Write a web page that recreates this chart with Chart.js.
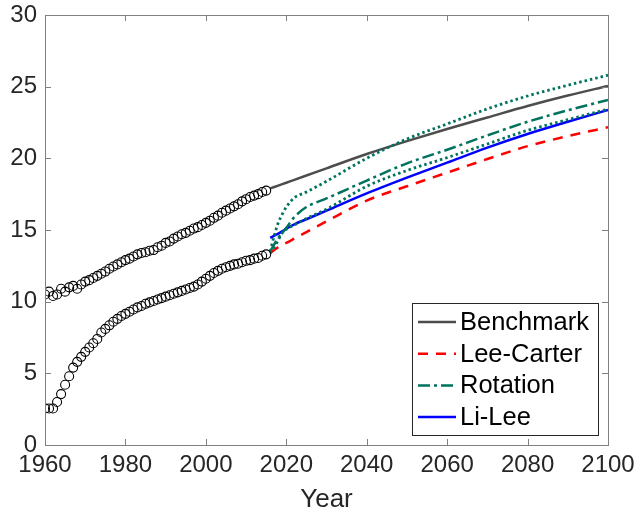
<!DOCTYPE html>
<html lang="en">
<head>
  <meta charset="UTF-8" />
  <title>Life expectancy forecasts</title>
  <style>
    body {
      margin: 0;
      background: #ffffff;
    }
    #wrap {
      position: relative;
      width: 638px;
      height: 515px;
    }
  </style>
</head>
<body>
  <div id="wrap"><canvas id="chart"></canvas></div>

  <script src="https://cdn.jsdelivr.net/npm/chart.js"></script>
  <script>
    // observed years (circles)
    const obsYears = [1960, 1961, 1962, 1963, 1964, 1965, 1966, 1967, 1968, 1969,
      1970, 1971, 1972, 1973, 1974, 1975, 1976, 1977, 1978, 1979,
      1980, 1981, 1982, 1983, 1984, 1985, 1986, 1987, 1988, 1989,
      1990, 1991, 1992, 1993, 1994, 1995, 1996, 1997, 1998, 1999,
      2000, 2001, 2002, 2003, 2004, 2005, 2006, 2007, 2008, 2009,
      2010, 2011, 2012, 2013, 2014, 2015];
    const obsUpper = [10.5, 10.7, 10.4, 10.5, 10.9, 10.7, 11.0, 11.1, 10.9, 11.2,
      11.4, 11.5, 11.65, 11.8, 11.95, 12.1, 12.3, 12.45, 12.6, 12.75,
      12.9, 13.0, 13.15, 13.3, 13.4, 13.45, 13.55, 13.6, 13.8, 13.9,
      14.1, 14.2, 14.4, 14.55, 14.7, 14.8, 14.95, 15.1, 15.2, 15.35,
      15.5, 15.65, 15.85, 16.0, 16.2, 16.35, 16.5, 16.65, 16.8, 17.0,
      17.15, 17.3, 17.4, 17.5, 17.65, 17.75];
    const obsLower = [2.55, 2.55, 2.55, 3.0, 3.55, 4.2, 4.8, 5.4, 5.8, 6.15,
      6.5, 6.8, 7.1, 7.4, 7.85, 8.1, 8.35, 8.6, 8.8, 9.0,
      9.15, 9.3, 9.45, 9.6, 9.7, 9.85, 9.95, 10.05, 10.15, 10.25,
      10.35, 10.45, 10.55, 10.65, 10.75, 10.85, 10.95, 11.05, 11.2, 11.4,
      11.6, 11.8, 12.0, 12.15, 12.3, 12.4, 12.5, 12.6, 12.65, 12.75,
      12.85, 12.9, 13.0, 13.05, 13.2, 13.3];

    // forecast years (lines)
    const fcYears = [2016, 2017, 2018, 2019, 2020, 2022, 2025, 2030, 2040, 2050, 2060, 2070, 2080, 2090, 2100];
    const benchmark = [17.9, 18.0, 18.1, 18.2, 18.3, 18.5, 18.8, 19.3, 20.3, 21.2, 22.05, 22.85, 23.65, 24.38, 25.05];
    const leeCarter = [13.4, 13.6, 13.8, 14.0, 14.1, 14.4, 14.85, 15.6, 17.05, 18.05, 19.0, 19.95, 20.85, 21.55, 22.17];
    const rotation = [13.5, 14.0, 14.45, 14.8, 15.15, 15.9, 16.6, 17.2, 18.45, 19.65, 20.6, 21.6, 22.55, 23.35, 24.07];
    const rotationUp = [13.5, 14.6, 15.5, 16.1, 16.6, 17.25, 17.65, 18.4, 20.0, 21.35, 22.4, 23.45, 24.35, 25.1, 25.8];
    const rotationLow = [13.4, 13.8, 14.3, 14.8, 15.05, 15.35, 15.8, 16.45, 18.05, 19.15, 20.05, 21.0, 21.95, 22.7, 23.43];
    const liLee = [14.45, 14.6, 14.75, 14.9, 15.1, 15.4, 15.75, 16.35, 17.55, 18.65, 19.7, 20.75, 21.7, 22.55, 23.38];

    const xTicks = [1960, 1980, 2000, 2020, 2040, 2060, 2080, 2100];
    const yTicks = [0, 5, 10, 15, 20, 25, 30];
    const legendNames = ['Benchmark', 'Lee-Carter', 'Rotation', 'Li-Lee'];

    const TEAL = '#00735e';
    const AXIS_COLOR = '#808080';
    const TEXT_COLOR = '#262626';
    const FONT = "'Liberation Sans', Arial, sans-serif";

    function pts(xs, ys) {
      return xs.map((x, i) => ({ x: x, y: ys[i] }));
    }

    function lineSet(label, ys, color, dash, width) {
      return {
        label: label,
        data: pts(fcYears, ys),
        showLine: true,
        borderColor: color,
        backgroundColor: color,
        borderWidth: width || 2.5,
        borderDash: dash,
        borderCapStyle: 'butt',
        pointRadius: 0,
        cubicInterpolationMode: 'monotone'
      };
    }

    function circleSet(label, ys) {
      return {
        label: label,
        data: pts(obsYears, ys),
        showLine: false,
        pointStyle: 'circle',
        pointRadius: 4.5,
        borderWidth: 1.1,
        borderColor: '#000000',
        backgroundColor: 'rgba(0,0,0,0)'
      };
    }

    const datasets = [
      circleSet('obs-upper', obsUpper),
      circleSet('obs-lower', obsLower),
      lineSet('Rotation upper', rotationUp, TEAL, [2.5, 3], 2.8),
      lineSet('Rotation lower', rotationLow, TEAL, [2.5, 3], 2.8),
      lineSet('Benchmark', benchmark, '#4d4d4d', [], 2.5),
      lineSet('Lee-Carter', leeCarter, '#ff0000', [10, 8], 2.5),
      lineSet('Rotation', rotation, TEAL, [12, 4, 3, 4], 2.5),
      lineSet('Li-Lee', liLee, '#0000ff', [], 2.5)
    ];

    // box around plot, ticks pointing inward, legend inside lower right
    const frameAndLegend = {
      id: 'frameAndLegend',
      afterDraw(chart) {
        const ctx = chart.ctx;
        const a = chart.chartArea;
        const xs = chart.scales.x;
        const ys = chart.scales.y;
        ctx.save();
        ctx.strokeStyle = AXIS_COLOR;
        ctx.lineWidth = 1;
        ctx.strokeRect(a.left + 0.5, a.top + 0.5, a.right - a.left, a.bottom - a.top);
        const tl = 6;
        ctx.beginPath();
        xTicks.forEach(v => {
          const px = Math.round(xs.getPixelForValue(v)) + 0.5;
          ctx.moveTo(px, a.bottom); ctx.lineTo(px, a.bottom - tl);
          ctx.moveTo(px, a.top); ctx.lineTo(px, a.top + tl);
        });
        yTicks.forEach(v => {
          const py = Math.round(ys.getPixelForValue(v)) + 0.5;
          ctx.moveTo(a.left, py); ctx.lineTo(a.left + tl, py);
          ctx.moveTo(a.right, py); ctx.lineTo(a.right - tl, py);
        });
        ctx.stroke();

        // legend
        const bw = 186, bh = 132;
        const bx = a.right - 10 - bw, by = a.bottom - 10 - bh;
        ctx.fillStyle = '#ffffff';
        ctx.fillRect(bx, by, bw, bh);
        ctx.strokeStyle = TEXT_COLOR;
        ctx.strokeRect(bx + 0.5, by + 0.5, bw, bh);
        ctx.font = '25.5px ' + FONT;
        ctx.textBaseline = 'middle';
        legendNames.forEach((name, i) => {
          const ds = chart.data.datasets.find(d => d.label === name);
          const yy = by + 19 + i * 31.7;
          ctx.beginPath();
          ctx.strokeStyle = ds.borderColor;
          ctx.lineWidth = ds.borderWidth;
          ctx.setLineDash(ds.borderDash || []);
          ctx.moveTo(bx + 6, yy);
          ctx.lineTo(bx + 44, yy);
          ctx.stroke();
          ctx.setLineDash([]);
          ctx.fillStyle = '#000000';
          ctx.fillText(name, bx + 48, yy + 1);
        });
        ctx.restore();
      }
    };

    new Chart(document.getElementById('chart').getContext('2d'), {
      type: 'scatter',
      data: { datasets: datasets },
      options: {
        responsive: true,
        maintainAspectRatio: false,
        animation: false,
        layout: { padding: { top: 15, right: 30, left: 0, bottom: 0 } },
        scales: {
          x: {
            type: 'linear',
            min: 1960,
            max: 2100,
            afterBuildTicks: s => { s.ticks = xTicks.map(v => ({ value: v })); },
            afterFit: s => { s.height = 70; s.paddingLeft = 0; s.paddingRight = 0; },
            grid: { display: false, drawTicks: false },
            border: { display: false },
            ticks: {
              color: TEXT_COLOR,
              font: { family: FONT, size: 24 },
              padding: 6,
              maxRotation: 0,
              callback: v => String(v)
            },
            title: { display: true, text: 'Year', color: TEXT_COLOR, font: { family: FONT, size: 26 }, padding: { top: 0, bottom: 0 } }
          },
          y: {
            min: 0,
            max: 30,
            afterBuildTicks: s => { s.ticks = yTicks.map(v => ({ value: v })); },
            afterFit: s => { s.width = 45; s.paddingTop = 0; s.paddingBottom = 0; },
            grid: { display: false, drawTicks: false },
            border: { display: false },
            ticks: { color: TEXT_COLOR, font: { family: FONT, size: 24 }, padding: 8 }
          }
        },
        plugins: {
          legend: { display: false },
          tooltip: { enabled: false }
        }
      },
      plugins: [frameAndLegend]
    });
  </script>
</body>
</html>
